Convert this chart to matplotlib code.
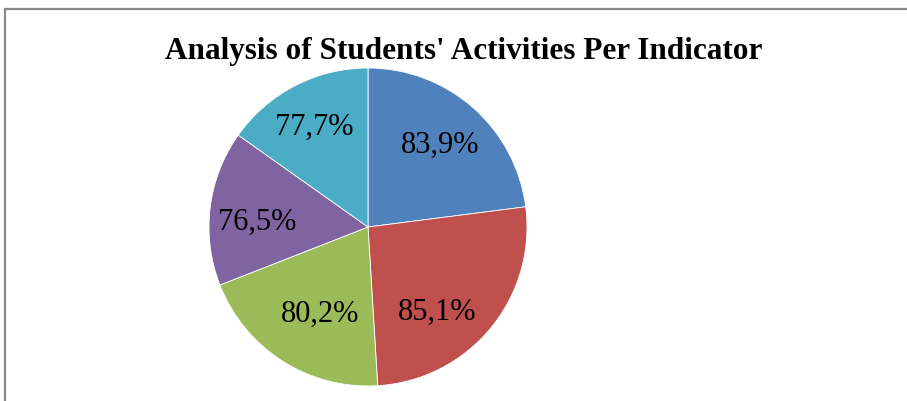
import matplotlib
matplotlib.use('Agg')
import numpy as np
import matplotlib.pyplot as plt
from matplotlib.lines import Line2D

# Slice sizes (degrees of the circle) and their labels
indicators = ['Indicator 1', 'Indicator 2', 'Indicator 3', 'Indicator 4', 'Indicator 5']
slice_sizes = [82.7, 93.8, 72.1, 56.7, 54.7]
slice_labels = ['83,9%', '85,1%', '80,2%', '76,5%', '77,7%']
colors = ['#4F81BD', '#C0504D', '#9BBB59', '#8064A2', '#4BACC6']
label_dist = [0.70, 0.675, 0.61, 0.70, 0.73]
label_turn = [1.0, -10.4, 2.8, 2.8, 0.0]

W, H = 907, 402
fig = plt.figure(figsize=(W / 100, H / 100), dpi=100)

# Outer chart frame (only top and left edges show)
frame_kw = dict(transform=fig.transFigure, color='#888888', linewidth=1.6)
fig.add_artist(Line2D([4.5 / W, 906 / W], [1 - 9.5 / H, 1 - 9.5 / H], **frame_kw))
fig.add_artist(Line2D([4.5 / W, 4.5 / W], [0, 1 - 9.5 / H], **frame_kw))

# Pie placed by pixel center and radius
cx, cy, r = 368, 402 - 228, 159
ax = fig.add_axes([(cx - r) / W, (cy - r) / H, 2 * r / W, 2 * r / H])
wedges, _ = ax.pie(slice_sizes, colors=colors, startangle=90, counterclock=False,
                   radius=1, wedgeprops=dict(edgecolor='white', linewidth=0.6))
ax.set_xlim(-1, 1)
ax.set_ylim(-1, 1)
ax.set_aspect('equal')
ax.axis('off')

for w, lab, d, t in zip(wedges, slice_labels, label_dist, label_turn):
    ang = np.deg2rad((w.theta1 + w.theta2) / 2 + t)
    ax.text(d * np.cos(ang), d * np.sin(ang) - 0.015, lab, ha='center', va='center',
            fontsize=22, family='Liberation Serif', color='black')

fig.text(464 / W, 1 - 52 / H, "Analysis of Students' Activities Per Indicator",
         ha='center', va='center', fontsize=22.5, fontweight='bold',
         family='Liberation Serif')

fig.savefig('out.png', dpi=100)
